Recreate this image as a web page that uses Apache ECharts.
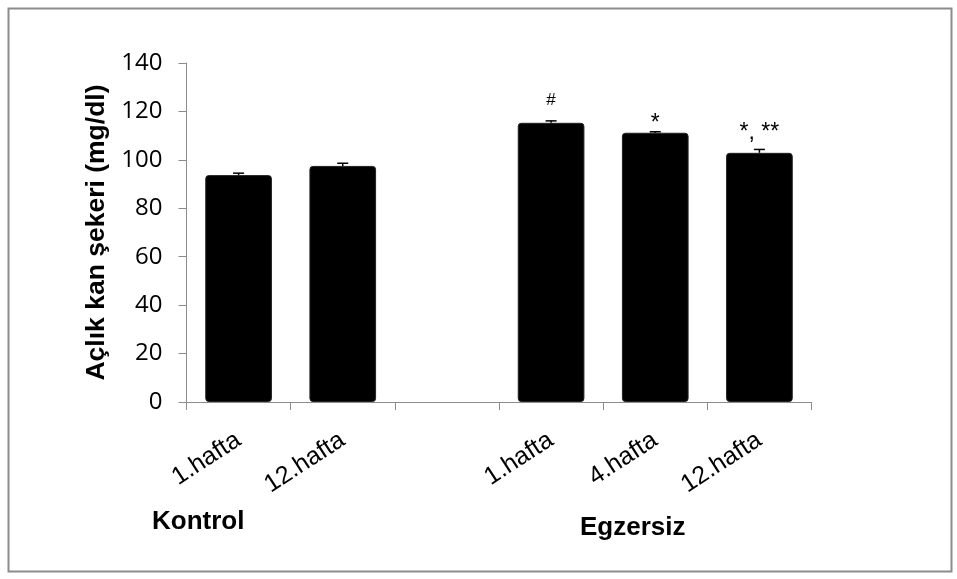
<!DOCTYPE html>
<html><head><meta charset="utf-8">
<script src="https://cdn.jsdelivr.net/npm/echarts@6.0.0/dist/echarts.min.js"></script>
<style>html,body{margin:0;padding:0;background:#fff}#c{width:957px;height:579px}</style>
</head><body><div id="c"></div>
<script>
// ---- data ----
const categories = ['1.hafta', '12.hafta', '', '1.hafta', '4.hafta', '12.hafta'];
const means = [93.7, 97.5, null, 115.3, 111.2, 102.9];
const errors = [0.8, 1.1, null, 0.8, 0.4, 1.4];
const annotations = ['', '', '', '#', '*', '*, **'];
const yMin = 0, yMax = 140, yStep = 20;
const groupLabels = ['Kontrol', 'Egzersiz'];
const yTitle = 'Açlık kan şekeri (mg/dl)';

// ---- styles ----
const annStyle = {
  '#': { fontSize: 17, distance: 14 },
  '*': { fontSize: 23, distance: -2 },
  '*, **': { fontSize: 23, distance: 9 }
};
const FONT = 'Liberation Sans, Arial, sans-serif';

const chart = echarts.init(document.getElementById('c'), null, { renderer: 'canvas' });

const barData = means.map((v, i) => {
  const a = annotations[i];
  if (!a || v == null) return v;
  const s = annStyle[a];
  return {
    value: v,
    label: {
      show: true, position: 'top', formatter: a,
      fontSize: s.fontSize, distance: s.distance,
      color: '#000', fontFamily: FONT
    }
  };
});

const errData = means.map((v, i) => v == null ? [i, null, null] : [i, v, errors[i]]);

chart.setOption({
  animation: false,
  backgroundColor: '#fff',
  grid: { left: 186.5, right: 145.5, top: 63, bottom: 177, containLabel: false },
  xAxis: {
    type: 'category',
    data: categories,
    axisLine: { lineStyle: { color: '#8c8c8c', width: 1 } },
    axisTick: { show: true, alignWithLabel: false, length: 8, lineStyle: { color: '#8c8c8c' } },
    axisLabel: {
      interval: 0, rotate: 33, margin: 36, fontSize: 25, color: '#000',
      fontFamily: FONT
    },
    splitLine: { show: false }
  },
  yAxis: {
    type: 'value',
    min: yMin, max: yMax, interval: yStep,
    name: yTitle,
    nameLocation: 'middle',
    nameRotate: 90,
    nameGap: 73,
    nameTextStyle: { fontSize: 26.5, fontWeight: 'bold', color: '#000', fontFamily: FONT },
    axisLine: { show: true, lineStyle: { color: '#8c8c8c', width: 1 } },
    axisTick: { show: true, length: 8, lineStyle: { color: '#8c8c8c' } },
    axisLabel: { margin: 24, fontSize: 24, color: '#000', fontFamily: 'Open Sans, sans-serif' },
    splitLine: { show: false }
  },
  series: [
    {
      type: 'bar',
      data: barData,
      barWidth: '64%',
      itemStyle: { color: '#000', borderColor: '#222', borderWidth: 1, borderRadius: 3 },
      z: 2
    },
    {
      type: 'custom',
      data: errData,
      z: 3,
      renderItem: function (params, api) {
        const v = api.value(1);
        if (v == null || isNaN(v)) return null;
        const e = api.value(2);
        const x = api.value(0);
        const top = api.coord([x, v + e]);
        const base = api.coord([x, v]);
        const hw = 5.5;
        const st = { stroke: '#000', lineWidth: 1.5 };
        return {
          type: 'group',
          children: [
            { type: 'line', shape: { x1: base[0], y1: base[1], x2: top[0], y2: top[1] }, style: st },
            { type: 'line', shape: { x1: top[0] - hw, y1: top[1], x2: top[0] + hw, y2: top[1] }, style: st }
          ]
        };
      }
    }
  ],
  graphic: [
    { type: 'rect', left: 6, top: 6, shape: { width: 943, height: 563 }, style: { fill: 'none', stroke: '#8c8c8c', lineWidth: 2 }, silent: true },
    { type: 'text', left: 152, top: 509, style: { text: groupLabels[0], fontSize: 26, fontWeight: 'bold', fill: '#000', fontFamily: FONT } },
    { type: 'text', left: 580, top: 515, style: { text: groupLabels[1], fontSize: 26, fontWeight: 'bold', fill: '#000', fontFamily: FONT } }
  ]
});
</script>
</body></html>
